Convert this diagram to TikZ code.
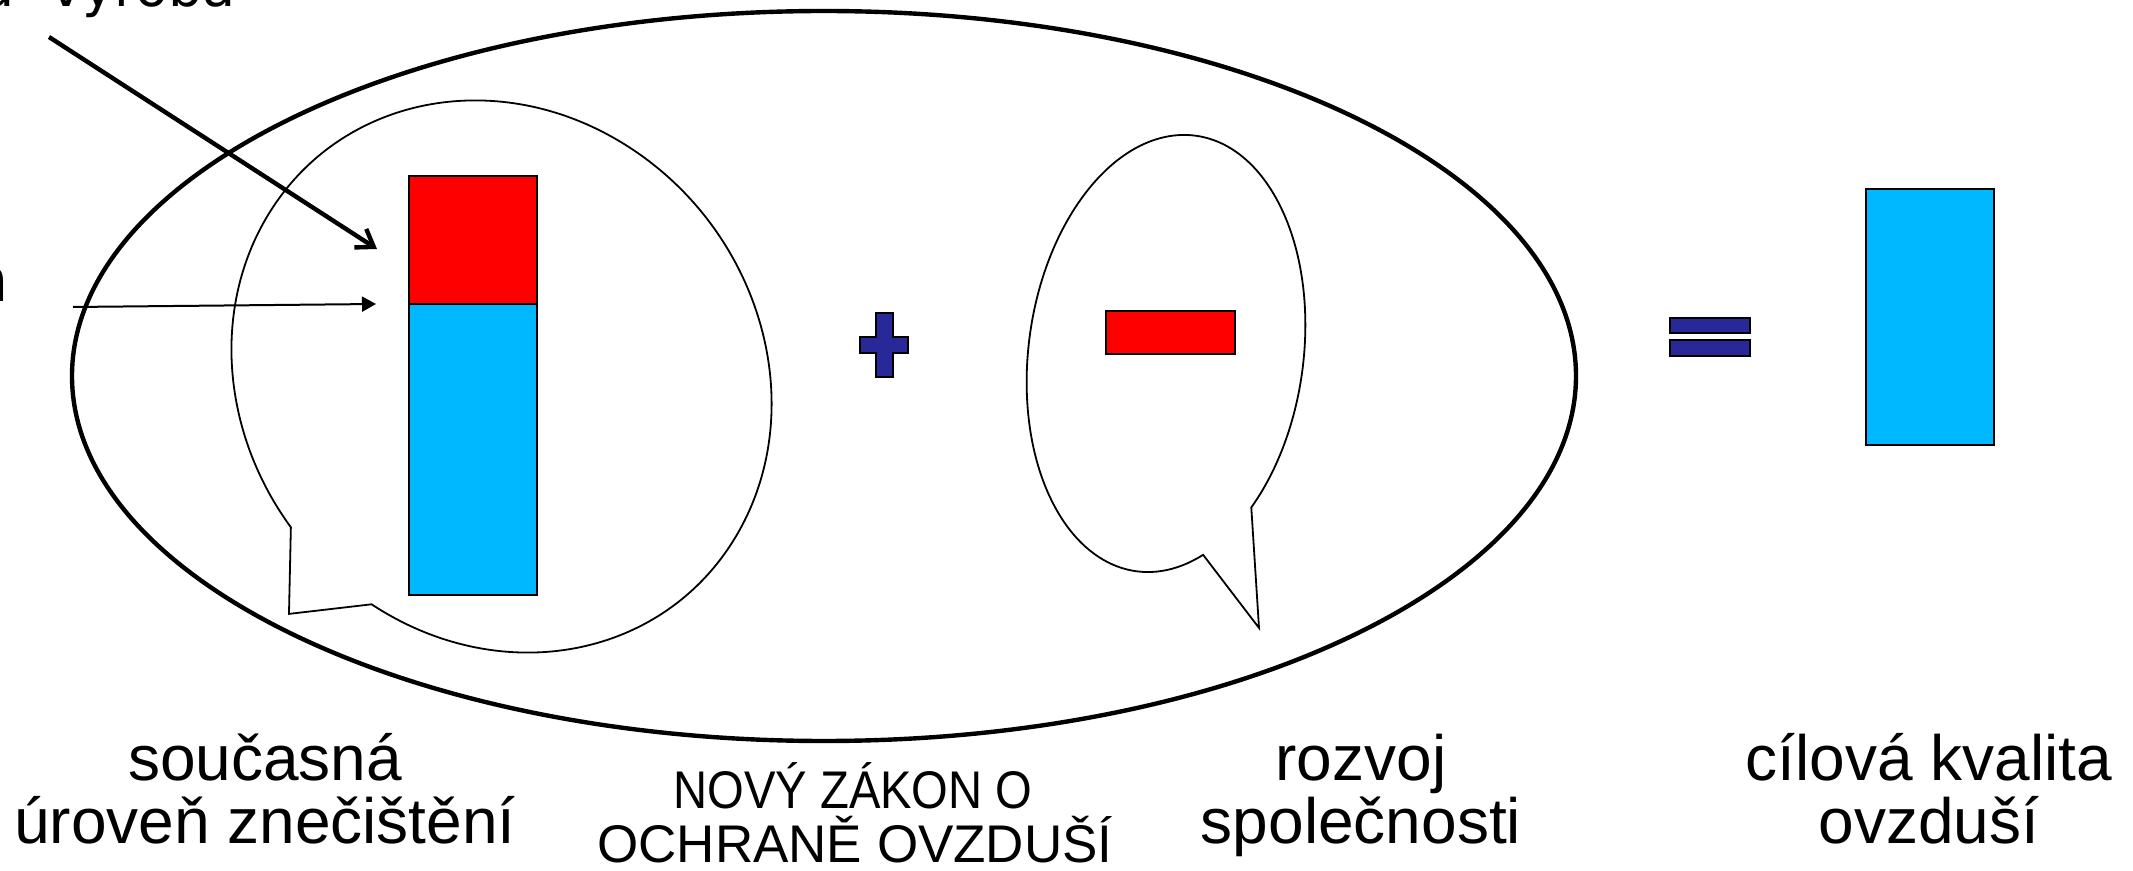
\documentclass[tikz,border=0pt]{standalone}
\usepackage{fontspec}
\setmainfont{Liberation Sans}
\newfontfamily\cutfont{DejaVu Sans}
\newcommand{\widespaces}{\spaceskip 18pt\relax}
\usetikzlibrary{arrows.meta}
\definecolor{barred}{RGB}{255,0,0}
\definecolor{barblue}{RGB}{0,184,255}
\definecolor{opblue}{RGB}{40,40,152}
\begin{document}
\begin{tikzpicture}[x=0.5pt,y=0.5pt,
  bigell/.style={draw=black, line width=2.2pt},
  bubble/.style={draw=black, line width=0.9pt},
  box/.style={draw=black, line width=0.9pt, inner sep=0pt, outer sep=0pt, anchor=north west},
  opsign/.style={draw=black, line width=0.9pt, fill=opblue},
  lbl/.style={inner sep=0pt, font=\fontsize{32}{38}\selectfont},
  sml/.style={inner sep=0pt, font=\fontsize{26.5}{32}\selectfont},
  cuttext/.style={inner sep=0pt, font={\cutfont\fontsize{27}{32}\selectfont\widespaces}},
  cutletter/.style={inner sep=0pt, font=\cutfont\fontsize{31}{37}\selectfont},
  thickarrow/.style={line width=2.2pt, -{Straight Barb[length=8pt,width=11pt]}},
  thinarrow/.style={line width=1pt, -{Triangle[length=7pt,width=7.5pt]}}]
\useasboundingbox (0,0) rectangle (2133,-871);
\clip (0,0) rectangle (2133,-871);

% big ellipse
\draw[bigell] (824,-376) ellipse [x radius=752, y radius=365];

% left speech bubble
\begin{scope}[shift={(501.5,-376.5)}, rotate=38.7]
  \draw[bubble] (199.7:259 and 286.5) arc[start angle=199.7, end angle=537.2, x radius=259, y radius=286.5] -- (-314.3,-52.4) -- cycle;
\end{scope}

% right speech bubble
\begin{scope}[shift={(1166,-353.5)}, rotate=-7.8]
  \draw[bubble] (-39.9:137.4 and 219.8) arc[start angle=-39.9, end angle=297.8, x radius=137.4, y radius=219.8] -- (129.4,-259.3) -- cycle;
\end{scope}

% current pollution bar
\node[box, fill=barred, minimum width=64pt, minimum height=64pt] (redpart) at (409,-176) {};
\node[box, fill=barblue, minimum width=64pt, minimum height=145.5pt] (bluepart) at (409,-304) {};

% plus sign
\draw[opsign] (876,-313) -- (893,-313) -- (893,-337) -- (908,-337) -- (908,-353) -- (893,-353) -- (893,-377) -- (876,-377) -- (876,-353) -- (860,-353) -- (860,-337) -- (876,-337) -- cycle;

% red minus bar
\node[box, fill=barred, minimum width=64.5pt, minimum height=21.5pt] (minusbar) at (1106,-311) {};

% equals sign
\node[box, fill=opblue, minimum width=40pt, minimum height=7.5pt] (eqtop) at (1670,-318) {};
\node[box, fill=opblue, minimum width=40pt, minimum height=8pt] (eqbot) at (1670,-340) {};

% target bar
\node[box, fill=barblue, minimum width=64pt, minimum height=128pt] (target) at (1866,-189) {};

% arrows
\coordinate (a1s) at (49,-37);
\coordinate (a1e) at (377,-249);
\coordinate (a2s) at (73,-307);
\coordinate (a2e) at (376,-304);
\draw[thickarrow] (a1s) -- (a1e);
\draw[thinarrow] (a2s) -- (a2e);

% cut-off texts at the left edge
\node[cuttext, anchor=base east] (topcut) at (236,-7) {a výroba};
\node[cutletter, anchor=base east] (leftcut) at (9,-302) {ň};

% labels
\node[lbl, anchor=base] (l1a) at (265,-780) {současná};
\node[lbl, anchor=base] (l1b) at (265,-843) {úroveň znečištění};
\node[sml, anchor=base] (l2a) at (853,-808) {\scalebox{0.89}[1]{NOVÝ ZÁKON O}};
\node[sml, anchor=base] (l2b) at (855,-862) {OCHRANĚ OVZDUŠÍ};
\node[lbl, anchor=base] (l3a) at (1361,-780) {rozvoj};
\node[lbl, anchor=base] (l3b) at (1361,-843) {společnosti};
\node[lbl, anchor=base] (l4a) at (1929,-780) {cílová kvalita};
\node[lbl, anchor=base] (l4b) at (1929,-843) {ovzduší};
\end{tikzpicture}
\end{document}
